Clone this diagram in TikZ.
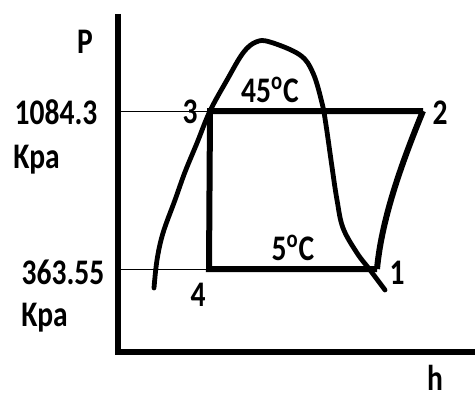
\documentclass[tikz,border=0pt]{standalone}
\usepackage{fontspec}
\setmainfont{Carlito}[FakeStretch=0.82]
\usepackage{tikz}
\usetikzlibrary{calc, positioning}

\begin{document}
\begin{tikzpicture}[
    x=0.5pt, y=-0.5pt,
    axis/.style={line width=3pt},
    cycleline/.style={line width=3pt, line join=miter},
    dome/.style={line width=2.4pt, line cap=round},
    guide/.style={line width=0.5pt},
    lbl/.style={font=\fontsize{18}{21}\selectfont\bfseries, inner sep=0pt}
]
\useasboundingbox (0,0) rectangle (475,401);

% Axes
\coordinate (top) at (118,14);
\coordinate (origin) at (118,352);
\coordinate (right) at (475,352);
\draw[axis] (top) -- (origin) -- (right);

% Cycle state points
\coordinate (s3) at (210,111);
\coordinate (s2) at (423,111);
\coordinate (s4) at (209,269);
\coordinate (s1) at (377,269);

% Saturation dome
\draw[dome] plot[smooth, tension=0.6] coordinates {
    (154,288) (157,260) (163,233) (175,200) (185,172) (197,143) (210,111)
    (227,80) (243,53) (256,42) (270,42) (300,55) (313,73) (322,103)
    (326,125) (332,167) (337,200) (343,228) (357,253) (370,270) (385,290)};

% Pressure guide lines
\draw[guide] (origin |- s3) -- (s3);
\draw[guide] (origin |- s4) -- (s4);

% Refrigeration cycle
\draw[cycleline] (s1) -- (s4) -- (s3) -- (s2);
\draw[cycleline] (s2) .. controls (405,155) and (382,215) .. (s1);

% Labels
\node[lbl] (plabel) at (85,42) {P};
\node[lbl] (hlabel) at (435,378) {h};
\node[lbl] (phigh) at (56,112) {1084.3};
\node[lbl, anchor=west] (unithigh) at (13,160) {Kpa};
\node[lbl] (plow) at (63,272) {363.55};
\node[lbl, anchor=west] (unitlow) at (21,318) {Kpa};
\node[lbl] (n3) at (190,112) {3};
\node[lbl] (n2) at (440,113) {2};
\node[lbl] (n4) at (198,295) {4};
\node[lbl] (n1) at (397,273) {1};
\node[lbl] (tcond) at (270,90) {45\textsuperscript{o}C};
\node[lbl] (tevap) at (293,248) {5\textsuperscript{o}C};

\end{tikzpicture}
\end{document}
